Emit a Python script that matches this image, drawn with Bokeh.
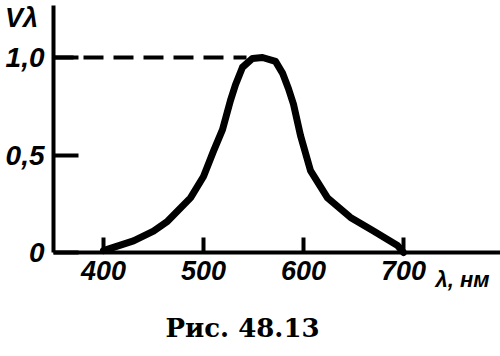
from bokeh.plotting import figure
from bokeh.models import Label, FixedTicker, Range1d
from bokeh.embed import file_html
from bokeh.resources import INLINE

# Relative spectral sensitivity of the eye V(lambda)
wavelength = [400, 430, 450, 464, 487, 500, 510, 519, 527, 532, 539, 549, 559, 572, 579, 585, 590, 597, 607, 624, 647, 670, 694, 700]
sensitivity = [0.01, 0.06, 0.11, 0.16, 0.28, 0.39, 0.52, 0.63, 0.78, 0.86, 0.95, 0.995, 1.0, 0.98, 0.92, 0.84, 0.76, 0.60, 0.42, 0.28, 0.18, 0.11, 0.036, 0.0]

x_ticks = [400, 500, 600, 700]
y_ticks = [0, 0.5, 1.0]
y_tick_labels = {0: "0", 0.5: "0,5", 1: "1,0"}
x_unit_label = "λ, нм"
y_label = "Vλ"
caption = "Рис. 48.13"

x_axis_start, x_axis_end = 350, 797
y_axis_top = 1.267

p = figure(width=500, height=356, output_backend="svg", toolbar_location=None,
           x_range=Range1d(297, 797), y_range=Range1d(-0.5333, 1.2923),
           min_border=0)
p.outline_line_color = None
p.grid.visible = False
p.background_fill_color = "white"
p.border_fill_color = "white"

tick_font = "Liberation Sans"

xa = p.xaxis[0]
xa.fixed_location = 0
xa.bounds = (x_axis_start, x_axis_end)
xa.ticker = FixedTicker(ticks=x_ticks)
xa.axis_line_width = 4
xa.major_tick_line_width = 4
xa.major_tick_in = 15
xa.major_tick_out = 0
xa.minor_tick_line_color = None
xa.major_label_text_font = tick_font
xa.major_label_text_font_style = "bold italic"
xa.major_label_text_font_size = "27px"
xa.major_label_text_color = "black"
xa.major_label_standoff = 8

ya = p.yaxis[0]
ya.fixed_location = x_axis_start
ya.bounds = (0, y_axis_top)
ya.ticker = FixedTicker(ticks=y_ticks)
ya.major_label_overrides = y_tick_labels
ya.axis_line_width = 4
ya.major_tick_line_width = 4
ya.major_tick_in = 25
ya.major_tick_out = 0
ya.minor_tick_line_color = None
ya.major_label_text_font = tick_font
ya.major_label_text_font_style = "bold italic"
ya.major_label_text_font_size = "28px"
ya.major_label_text_color = "black"
ya.major_label_standoff = 9

# curve
p.line(wavelength, sensitivity, line_width=7, line_color="black",
       line_join="round", line_cap="round")

# dashed reference at the peak
peak_i = max(range(len(sensitivity)), key=lambda i: sensitivity[i])
p.segment(x0=[x_axis_start], y0=[sensitivity[peak_i]],
          x1=[wavelength[peak_i] - 16], y1=[sensitivity[peak_i]],
          line_width=4, line_color="black", line_dash="20 10")

p.add_layout(Label(x=732, y=-0.14, text=x_unit_label,
                   text_font=tick_font, text_font_style="bold italic", text_font_size="22px",
                   text_baseline="middle", text_align="left", text_color="black"))
p.add_layout(Label(x=318, y=1.2, text=y_label,
                   text_font=tick_font, text_font_style="bold italic", text_font_size="27px",
                   text_baseline="middle", text_align="center", text_color="black"))
p.add_layout(Label(x=539, y=-0.385, text=caption,
                   text_font="DejaVu Serif", text_font_style="bold", text_font_size="26px",
                   text_baseline="middle", text_align="center", text_color="black"))

open("out.html", "w").write(file_html(p, INLINE))
